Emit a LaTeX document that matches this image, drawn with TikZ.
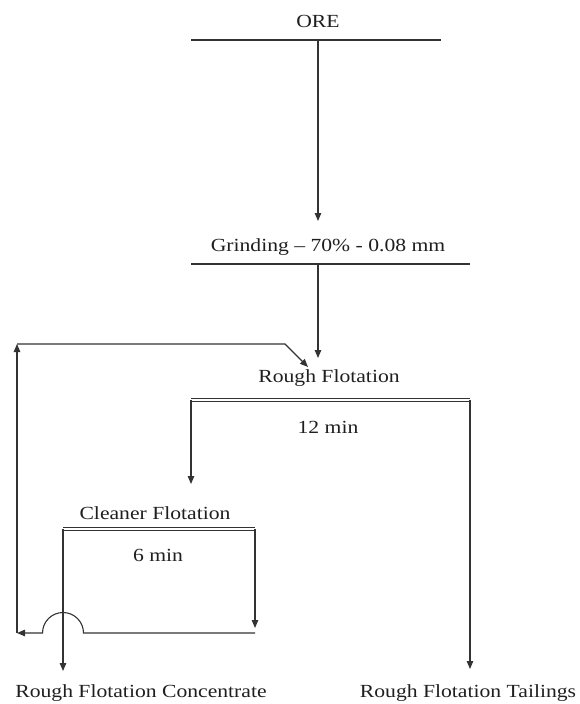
\documentclass[tikz,border=0pt]{standalone}
\usepackage{fontspec}
\setmainfont{Liberation Serif}
\usetikzlibrary{arrows.meta}
\newcommand{\wide}[1]{\scalebox{1.17}[1.0]{#1}}
\begin{document}
\begin{tikzpicture}[x=1pt,y=-1pt, line width=1.1pt, color=black!80,
  lbl/.style={font=\fontsize{18.5}{21}\selectfont, text=black!88, inner sep=0pt},
  flow/.style={-{Triangle[length=8pt,width=6.5pt]}},
  hdr/.style={double=white, double distance=2.2pt, line width=0.9pt},
  bar/.style={line width=1.1pt}]
\useasboundingbox (0,0) rectangle (580,704);
% labels
\node[lbl] (ore) at (318,21) {\wide{ORE}};
\node[lbl] (grind) at (328,247) {\wide{Grinding -- 70\% - 0.08 mm}};
\node[lbl] (rough) at (329,378) {\wide{Rough Flotation}};
\node[lbl] (t12) at (328,427) {\wide{12 min}};
\node[lbl] (clean) at (155,513) {\wide{Cleaner Flotation}};
\node[lbl] (t6) at (158,555) {\wide{6 min}};
\node[lbl] (conc) at (141,693) {\wide{Rough Flotation Concentrate}};
\node[lbl] (tail) at (468,693) {\wide{Rough Flotation Tailings}};
% coordinates
\coordinate (oreL) at (191,40);  \coordinate (oreR) at (441,40);  \coordinate (oreO) at (318,40);
\coordinate (grIn) at (318,221);
\coordinate (grL) at (191,264);  \coordinate (grR) at (470,264);  \coordinate (grO) at (318,264);
\coordinate (rfIn) at (318,358);
\coordinate (rfL) at (191,400);  \coordinate (rfR) at (470,400);
\coordinate (clIn) at (191,484);
\coordinate (tlIn) at (470,669);
\coordinate (clL) at (63,529);   \coordinate (clR) at (255,529);
\coordinate (clRo) at (255,628);
\coordinate (cnIn) at (63,671);
\coordinate (bR) at (255,633);   \coordinate (bA) at (83.5,633);
\coordinate (bL) at (17,633);
\coordinate (rcTop) at (17,344); \coordinate (rcBend) at (285,344);
\coordinate (rcIn) at (308,367);
% header bars
\draw[bar] (oreL) -- (oreR);
\draw[bar] (grL) -- (grR);
\draw[hdr] (rfL) -- (rfR);
\draw[hdr] (clL) -- (clR);
% flows
\draw[flow] (oreO) -- (grIn);
\draw[flow] (grO) -- (rfIn);
\draw[flow] (rfL) -- (clIn);
\draw[flow] (rfR) -- (tlIn);
\draw[flow] (clR) -- (clRo);
\draw[flow] (clL) -- (cnIn);
\draw[flow] (bR) -- (bA) arc[start angle=0, end angle=180, radius=20.5pt] -- (bL);
\draw[flow] (bL) -- (rcTop);
\draw[flow] (rcTop) -- (rcBend) -- (rcIn);
\end{tikzpicture}
\end{document}
